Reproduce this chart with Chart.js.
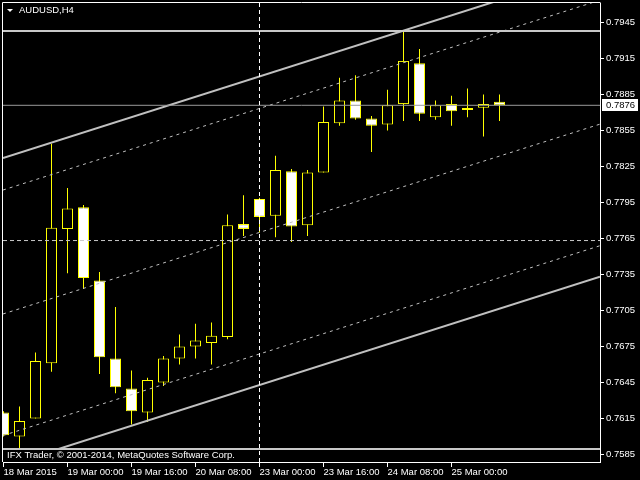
<!DOCTYPE html>
<html>
<head>
<meta charset="utf-8">
<title>AUDUSD,H4</title>
<script src="https://cdn.jsdelivr.net/npm/chart.js@4.4.1/dist/chart.umd.min.js"></script>
<style>
html, body { margin: 0; padding: 0; background: #000; }
#chartWin { display: block; background: #000; }
</style>
</head>
<body>
<canvas id="chartWin" width="640" height="480"></canvas>
<script>
// AUDUSD H4 bars, first one is 18 Mar 2015 08:00
var barOpen  = [0.7620, 0.7600, 0.7615, 0.7661, 0.7773, 0.7791, 0.7730, 0.7665, 0.7640, 0.7620, 0.7645, 0.7665, 0.7675, 0.7678, 0.7683, 0.7777,
                0.7798, 0.7784, 0.7821, 0.7776, 0.7820, 0.7861, 0.7880, 0.7865, 0.7860, 0.7877, 0.7911, 0.7866, 0.7877, 0.7872, 0.7874, 0.7879];
var barHigh  = [0.7621, 0.7625, 0.7670, 0.7844, 0.7807, 0.7793, 0.7737, 0.7708, 0.7655, 0.7649, 0.7667, 0.7685, 0.7694, 0.7695, 0.7785, 0.7801,
                0.7799, 0.7834, 0.7823, 0.7822, 0.7875, 0.7899, 0.7901, 0.7867, 0.7889, 0.7937, 0.7923, 0.7880, 0.7884, 0.7890, 0.7885, 0.7885];
var barLow   = [0.7600, 0.7590, 0.7615, 0.7654, 0.7736, 0.7723, 0.7652, 0.7636, 0.7610, 0.7612, 0.7642, 0.7660, 0.7665, 0.7660, 0.7681, 0.7767,
                0.7770, 0.7766, 0.7762, 0.7767, 0.7820, 0.7859, 0.7864, 0.7837, 0.7855, 0.7863, 0.7863, 0.7864, 0.7859, 0.7866, 0.7850, 0.7863];
var barClose = [0.7601, 0.7613, 0.7663, 0.7774, 0.7790, 0.7732, 0.7666, 0.7641, 0.7621, 0.7647, 0.7665, 0.7675, 0.7680, 0.7684, 0.7776, 0.7773,
                0.7783, 0.7822, 0.7775, 0.7820, 0.7862, 0.7880, 0.7865, 0.7859, 0.7876, 0.7913, 0.7869, 0.7876, 0.7871, 0.7872, 0.7877, 0.7876];

// time scale labels, every 4th bar
var timeTickBars   = [0, 4, 8, 12, 16, 20, 24, 28];
var timeTickLabels = ['18 Mar 2015', '19 Mar 00:00', '19 Mar 16:00', '20 Mar 08:00', '23 Mar 00:00', '23 Mar 16:00', '24 Mar 08:00', '25 Mar 00:00'];

// price scale labels
var priceTicks = [0.7585, 0.7615, 0.7645, 0.7675, 0.7705, 0.7735, 0.7765, 0.7795, 0.7825, 0.7855, 0.7885, 0.7915, 0.7945];

// channel: price at the left and at the right edge of the window
var channelLeft  = [0.78321, 0.78054, 0.77021, 0.76008, 0.75749];
var channelRight = [0.79903, 0.79636, 0.78603, 0.77590, 0.77331];
var channelSolid = [true, false, false, false, true];

// horizontal lines
var levelTop    = 0.79379;
var levelDash   = 0.77633;
var levelBottom = 0.75896;
var bidPrice    = 0.7876;
var separatorBar = 16; // 23 Mar 00:00

// visible window
var X_MIN = -0.03125, X_MAX = 37.28125;
var Y_MIN = 0.757875, Y_MAX = 0.796125;

var FONT = '9.5px "Liberation Sans", Arial, sans-serif';

var wickData = [], bodyData = [], bodyFill = [];
for (var i = 0; i < barOpen.length; i++) {
	wickData.push({x: i, y: [barLow[i], barHigh[i]]});
	bodyData.push({x: i, y: [barOpen[i], barClose[i]]});
	bodyFill.push(barClose[i] < barOpen[i] ? '#ffffff' : '#000000');
}

var hline = function(price, color, width, dash, order) {
	return {
		type: 'line',
		data: [{x: X_MIN, y: price}, {x: X_MAX, y: price}],
		borderColor: color,
		borderWidth: width,
		borderDash: dash,
		pointRadius: 0,
		fill: false,
		order: order
	};
};

var datasets = [];
datasets.push({
	type: 'bar', data: wickData,
	backgroundColor: '#ffff00', borderWidth: 0,
	barThickness: 1, grouped: false, inflateAmount: 0, order: 6
});
datasets.push({
	type: 'bar', data: bodyData,
	backgroundColor: bodyFill, borderColor: '#ffff00', borderWidth: 1, borderSkipped: false,
	barThickness: 11, grouped: false, inflateAmount: 0, minBarLength: 2, order: 5
});
for (var c = 0; c < channelLeft.length; c++) {
	datasets.push({
		type: 'line',
		data: [{x: X_MIN, y: channelLeft[c]}, {x: X_MAX, y: channelRight[c]}],
		borderColor: '#c0c0c0',
		borderWidth: channelSolid[c] ? 2 : 1,
		borderDash: channelSolid[c] ? [] : [3, 4],
		pointRadius: 0, fill: false, order: 4
	});
}
datasets.push(hline(levelTop, '#c8c8c8', 2, [], 3));
datasets.push(hline(levelDash, '#c8c8c8', 1, [4, 3], 3));
datasets.push(hline(bidPrice, '#9a9a9a', 1, [], 2));
// bottom label strip
var strip = hline(levelBottom, '#c8c8c8', 2, [], 1);
strip.fill = 'start';
strip.backgroundColor = '#000000';
datasets.push(strip);

var mtOverlay = {
	id: 'mtOverlay',
	afterDraw: function(chart) {
		var ctx = chart.ctx;
		var a = chart.chartArea;
		var xs = chart.scales.x, ys = chart.scales.y;
		ctx.save();
		// left and top frame
		ctx.strokeStyle = '#ffffff';
		ctx.lineWidth = 1;
		ctx.beginPath();
		ctx.moveTo(a.left - 0.5, a.bottom);
		ctx.lineTo(a.left - 0.5, a.top - 0.5);
		ctx.lineTo(a.right + 0.5, a.top - 0.5);
		ctx.stroke();

		ctx.font = FONT;
		ctx.textBaseline = 'middle';
		ctx.textAlign = 'left';
		ctx.fillStyle = '#ffffff';
		ctx.fillText('IFX Trader, \u00a9 2001-2014, MetaQuotes Software Corp.', 7, 455);

		// title with triangle
		ctx.beginPath();
		ctx.moveTo(7, 9);
		ctx.lineTo(13, 9);
		ctx.lineTo(10, 12);
		ctx.closePath();
		ctx.fill();
		ctx.fillText('AUDUSD,H4', 19, 10.5);

		// week separator
		var sx = xs.getPixelForValue(separatorBar);
		ctx.setLineDash([4, 3]);
		ctx.beginPath();
		ctx.moveTo(sx, a.top);
		ctx.lineTo(sx, a.bottom + 5);
		ctx.stroke();
		ctx.setLineDash([]);

		// bid price box
		var py = Math.round(ys.getPixelForValue(bidPrice));
		ctx.fillStyle = '#ffffff';
		ctx.fillRect(a.right + 2, py - 6, 36, 12);
		ctx.fillStyle = '#000000';
		ctx.fillText(bidPrice.toFixed(4), a.right + 6, py + 0.5);
		ctx.restore();
	}
};

var chartArea = document.getElementById('chartWin');
var myChartWin = new Chart(chartArea, {
	type: 'bar',
	data: { datasets: datasets },
	options: {
		responsive: false,
		animation: false,
		events: [],
		layout: { padding: { left: 3, top: 3, right: 0, bottom: 0 } },
		plugins: {
			legend: { display: false },
			tooltip: { enabled: false }
		},
		scales: {
			x: {
				type: 'linear',
				min: X_MIN, max: X_MAX,
				offset: false,
				afterFit: function(s) {
					s.height = 18;
					s.paddingLeft = 0;
					s.paddingRight = 0;
				},
				afterBuildTicks: function(s) {
					s.ticks = timeTickBars.map(function(v) { return {value: v}; });
				},
				grid: { offset: false, drawOnChartArea: false, drawTicks: true, tickLength: 5, color: '#ffffff' },
				border: { color: '#ffffff' },
				ticks: {
					autoSkip: false, maxRotation: 0, align: 'start', padding: 0,
					color: '#ffffff', font: { family: '"Liberation Sans", Arial, sans-serif', size: 9.5 },
					callback: function(v, idx) { return timeTickLabels[idx]; }
				}
			},
			y: {
				type: 'linear',
				position: 'right',
				min: Y_MIN, max: Y_MAX,
				afterFit: function(s) {
					s.width = 40;
					s.paddingTop = 0;
					s.paddingBottom = 0;
				},
				afterBuildTicks: function(s) {
					s.ticks = priceTicks.map(function(v) { return {value: v}; });
				},
				grid: { drawOnChartArea: false, drawTicks: true, tickLength: 4, color: '#ffffff' },
				border: { color: '#ffffff' },
				ticks: {
					padding: 2,
					color: '#ffffff', font: { family: '"Liberation Sans", Arial, sans-serif', size: 9.5 },
					callback: function(v) { return Number(v).toFixed(4); }
				}
			}
		}
	},
	plugins: [mtOverlay]
});
</script>
</body>
</html>
